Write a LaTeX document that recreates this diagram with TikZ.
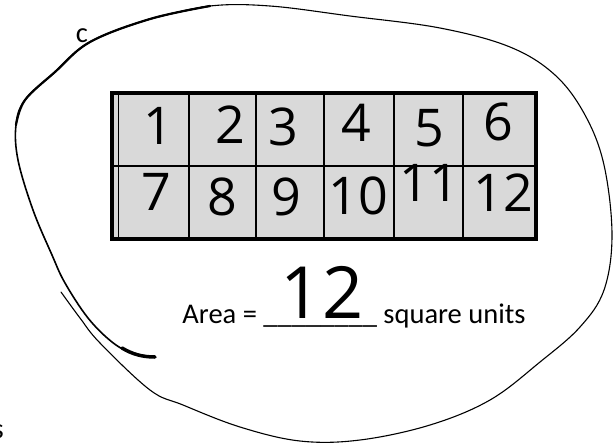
\documentclass[tikz,border=0pt]{standalone}
\usepackage{fontspec}
\setmainfont{Carlito}
\newfontfamily\handfont{Open Sans}
\usepackage{xcolor}
\usetikzlibrary{positioning}
\definecolor{cellGray}{HTML}{D9D9D9}

\begin{document}
\begin{tikzpicture}[x=1pt, y=-1pt,
  blob/.style={black, line width=1.1pt, line join=round, line cap=round},
  digit/.style={inner sep=0pt, font=\handfont\fontsize{52}{52}\selectfont},
  label/.style={inner sep=0pt, font=\fontsize{28.5}{30}\selectfont}]
\useasboundingbox (0,0) rectangle (613,445);
% hand-drawn loop round the array: thin stroke from lower left, round to the top
\draw[blob] plot[smooth, tension=0.6] coordinates {
  (61,292) (80,318) (100,343) (150,390) (183,405) (240,427) (300,441)
  (360,440) (430,425) (490,400) (540,362) (580,327) (604,290) (612,235)
  (604,165) (585,115) (555,75) (510,47) (440,28) (350,16) (270,6) (210,6) (150,19)};
% second stroke: top left, down the left side, into the hook
\draw[blob, line width=1.6pt] plot[smooth, tension=0.6] coordinates {
  (210,6) (150,19) (90,42) (55,72) (25,100) (16,125) (18,160) (33,210)
  (52,255) (65,283) (88,318) (112,342) (132,353) (155,357)};
\draw[blob, line width=2.2pt] plot[smooth, tension=0.6] coordinates {
  (210,6) (150,19) (90,42) (55,72) (25,100) (16,125)};
\draw[line width=3.5pt, line cap=round] (122,348) .. controls (132,354) and (142,357) .. (155,357);
\node[label] (partc) at (82,36) {c};
\node[label, anchor=east] (cutS) at (4,432) {s};
% the 2 by 6 array
\fill[cellGray] (112,93) rectangle (536,239);
\foreach \xx in {189,256,324,394,463}
  \draw[line width=1.2pt] (\xx,93) -- (\xx,239);
\draw[line width=1.2pt] (112,166) -- (536,166);
\draw[line width=0.9pt] (118,93) -- (118,239);
\draw[line width=4.5pt] (112,93) rectangle (536,239);
% numbers written in the cells
\foreach \cx/\cy/\num in {158/126/1, 230/125/2, 283/127/3, 356/123/4, 429/128/5, 498/122/6,
  156/192/7, 222/197/8, 286/197/9, 358/196/10, 429/183/11, 503/193/12}
  \node[digit] (cell\num) at (\cx,\cy) {\num};
% answer line
\node[label, anchor=base] (area) at (354,323) {Area = \_\_\_\_\_\_\_\_ square units};
\node[inner sep=0pt, anchor=base, font=\handfont\fontsize{72}{72}\selectfont] (answer) at (322,318) {12};
\end{tikzpicture}
\end{document}
